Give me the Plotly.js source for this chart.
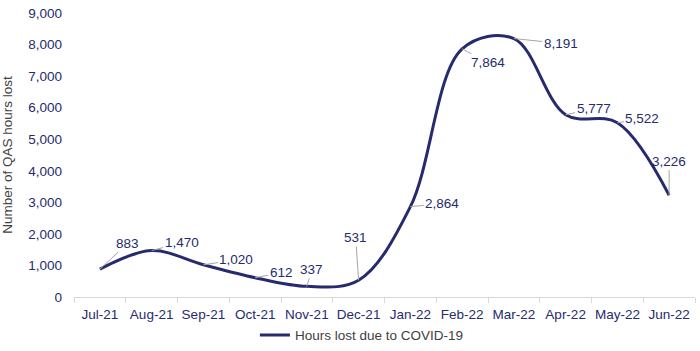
<!DOCTYPE html>
<html><head><meta charset="utf-8">
<script src="https://cdn.plot.ly/plotly-3.0.1.min.js"></script>
<style>html,body{margin:0;padding:0;background:#fff}#chart{width:700px;height:351px}</style>
</head><body><div id="chart"></div>
<script>
const months = ["Jul-21","Aug-21","Sep-21","Oct-21","Nov-21","Dec-21","Jan-22","Feb-22","Mar-22","Apr-22","May-22","Jun-22"];
const hoursLost = [883,1470,1020,612,337,531,2864,7864,8191,5777,5522,3226];
const seriesName = "Hours lost due to COVID-19";
// label offsets (px) for data-label leader lines
const labelDx = [28,30,33,26,5,-3,32,26,47,28,25,0];
const labelDy = [-26,-8,-5,-5,-17,-43,-3,14,5,-6,-4,-34];

const navy = "#262B6E";
const annotations = months.map((m,i)=>({
  x: m, y: hoursLost[i], xref:"x", yref:"y",
  text: hoursLost[i].toLocaleString("en-US"),
  showarrow: true, arrowhead: 0, arrowwidth: 1, arrowcolor: "#A6A6A6",
  ax: labelDx[i], ay: labelDy[i], standoff: 0, startstandoff: 0,
  font: {family: "Liberation Sans, Arial, sans-serif", size: 13.5, color: navy},
  bgcolor: "rgba(0,0,0,0)"
}));

Plotly.newPlot("chart", [{
  type: "scatter", mode: "lines", x: months, y: hoursLost, name: seriesName,
  line: {color: navy, width: 3, shape: "spline", smoothing: 1}
}], {
  width: 700, height: 351,
  margin: {l: 74, r: 5, t: 13, b: 54},
  paper_bgcolor: "#fff", plot_bgcolor: "#fff",
  font: {family: "Liberation Sans, Arial, sans-serif", size: 13, color: navy},
  xaxis: {type: "category", range: [-0.5, 11.5], showgrid: false, showline: true, linecolor: "#D9D9D9", linewidth: 1,
          ticks: "outside", tickson: "boundaries", ticklen: 5, tickcolor: "#D9D9D9", tickangle: 0, automargin: false,
          ticklabelstandoff: 5, tickfont: {size: 13.5, color: navy}, fixedrange: true},
  yaxis: {range: [0, 9000], dtick: 1000, tickformat: ",", showgrid: false, zeroline: false, showline: false, automargin: false,
          ticklabelstandoff: 11, tickfont: {size: 13.5, color: navy},
          title: {text: "Number of QAS hours lost", font: {size: 13.5, color: "#404040"}, standoff: 12}},
  showlegend: true,
  legend: {orientation: "h", xref: "container", yref: "container", x: 0.517, xanchor: "center", y: 0.045, yanchor: "middle",
           font: {size: 13.5, color: "#404040"}},
  annotations: annotations
}, {displayModeBar: false, staticPlot: true});
</script></body></html>
